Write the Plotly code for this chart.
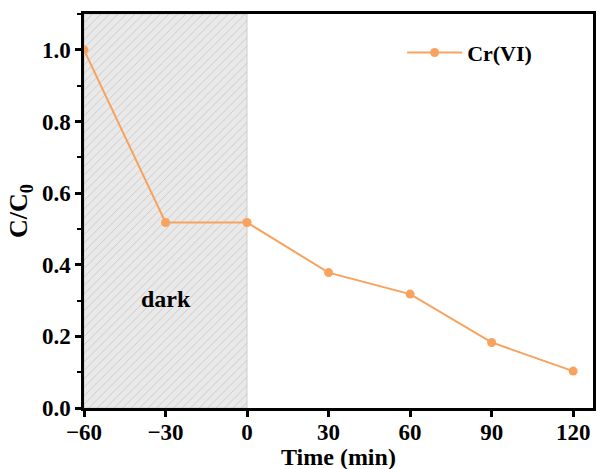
import plotly.graph_objects as go

# Photocatalytic reduction of Cr(VI): normalized concentration vs time
time_min = [-60, -30, 0, 30, 60, 90, 120]
c_over_c0 = [1.0, 0.518, 0.518, 0.378, 0.318, 0.183, 0.103]
series_name = "Cr(VI)"

x_ticks = [-60, -30, 0, 30, 60, 90, 120]
x_ticklabels = ["\u221260", "\u221230", "0", "30", "60", "90", "120"]
y_ticks = [0.0, 0.2, 0.4, 0.6, 0.8, 1.0]

# dark adsorption period
dark_start, dark_end = -60, 0
x_range = [-60, 127.3]
y_range = [0, 1.1]

orange = "#F7A35F"
font_family = "Liberation Serif, Times New Roman, serif"

fig = go.Figure()

# hatched band for the dark stage
fig.add_trace(go.Scatter(
    x=[dark_start, dark_end, dark_end, dark_start, dark_start],
    y=[y_range[0], y_range[0], y_range[1], y_range[1], y_range[0]],
    mode="lines", fill="toself", line=dict(width=0.6, color="#b5b5b5"),
    fillcolor="#e8e8e8",
    fillpattern=dict(shape="/", bgcolor="#e9e9e9", fgcolor="#a8a8a8",
                     size=6, solidity=0.15),
    hoverinfo="skip", showlegend=False,
))

fig.add_trace(go.Scatter(
    x=time_min, y=c_over_c0, mode="lines+markers", name=f"<b>{series_name}</b>",
    line=dict(color=orange, width=2),
    marker=dict(color=orange, size=9),
))

fig.add_annotation(x=-30, y=0.305, text="<b>dark</b>", showarrow=False,
                   font=dict(family=font_family, size=24, color="black"))

# x-axis title placed just under the tick labels
fig.add_annotation(xref="paper", yref="paper", x=0.5, y=-0.124,
                   xanchor="center", yanchor="middle", showarrow=False,
                   text="<b>Time (min)</b>",
                   font=dict(family=font_family, size=24, color="black"))

axis_common = dict(
    showline=True, linecolor="black", linewidth=2.5, mirror=True,
    ticks="outside", tickwidth=2.5, ticklen=6, tickcolor="black",
    showgrid=False, zeroline=False,
    tickfont=dict(family=font_family, size=23, color="black"),
)

fig.update_xaxes(
    range=x_range, tickvals=x_ticks, ticktext=[f"<b>{t}</b>" for t in x_ticklabels],
    ticklabelstandoff=-4,
    **axis_common,
)
fig.update_yaxes(
    range=y_range, tickvals=y_ticks, ticktext=[f"<b>{v:.1f}</b>" for v in y_ticks],
    title=dict(text="<b>C/C<sub>0</sub></b>", standoff=7,
               font=dict(family=font_family, size=26, color="black")),
    minor=dict(ticks="outside", ticklen=4, tickwidth=2, tickcolor="black", dtick=0.1),
    **axis_common,
)

fig.update_layout(
    width=600, height=469,
    margin=dict(l=84, r=4, t=14, b=61),
    plot_bgcolor="white", paper_bgcolor="white",
    legend=dict(x=0.625, y=0.955, xanchor="left", yanchor="top",
                bgcolor="rgba(0,0,0,0)", itemwidth=55,
                font=dict(family=font_family, size=22, color="black")),
    showlegend=True,
)

fig.write_html("out.html")
